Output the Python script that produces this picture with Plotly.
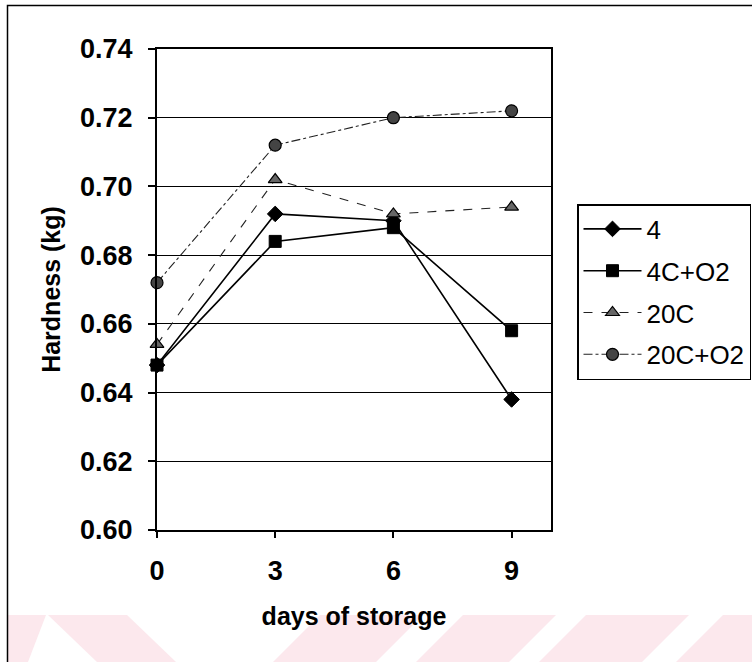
import plotly.graph_objects as go

# ---- data ----
days = [0, 3, 6, 9]
s_4 = [0.648, 0.692, 0.690, 0.638]
s_4c_o2 = [0.648, 0.684, 0.688, 0.658]
s_20c = [0.654, 0.702, 0.692, 0.694]
s_20c_o2 = [0.672, 0.712, 0.720, 0.722]
series_names = ["4", "4C+O2", "20C", "20C+O2"]
y_ticks = [0.60, 0.62, 0.64, 0.66, 0.68, 0.70, 0.72, 0.74]
x_ticks = [0, 3, 6, 9]

W, H = 752, 662
ML, MR, MT, MB = 157, 201, 49, 132
PW, PH = W - ML - MR, H - MT - MB


def px(x, y):
    return (x - ML) / PW, (H - MB - y) / PH


FONT = "Liberation Sans, Arial, sans-serif"

fig = go.Figure()

styles = [
    dict(line=dict(color="black", width=1.6, dash="solid"),
         marker=dict(symbol="diamond", size=12, color="black", line=dict(color="black", width=1))),
    dict(line=dict(color="black", width=1.6, dash="solid"),
         marker=dict(symbol="square", size=12, color="black", line=dict(color="black", width=1))),
    dict(line=dict(color="#222222", width=1.1, dash="dash"),
         marker=dict(symbol="triangle-up", size=12, color="#666666", line=dict(color="black", width=1.2))),
    dict(line=dict(color="#222222", width=1.1, dash="dashdot"),
         marker=dict(symbol="circle", size=12, color="#444444", line=dict(color="black", width=1.2))),
]

for i, (name, vals) in enumerate(zip(series_names, [s_4, s_4c_o2, s_20c, s_20c_o2])):
    fig.add_trace(go.Scatter(
        x=days, y=vals, name=name, mode="lines+markers",
        legendgroup=name, cliponaxis=False, **styles[i]))

# watermark polygons (pale pink)
pink_polys = [
    [(8, 615), (46, 615), (28, 662), (8, 662)],
    [(48, 615), (127, 615), (176, 662), (97, 662)],
    [(320, 615), (423, 615), (376, 662), (273, 662)],
    [(463, 615), (556, 615), (509, 662), (416, 662)],
    [(586, 615), (689, 615), (642, 662), (539, 662)],
    [(723, 615), (760, 615), (760, 662), (676, 662)],
]
shapes = []
for poly in pink_polys:
    pts = [px(x, y) for x, y in poly]
    path = "M " + " L ".join(f"{a:.4f},{b:.4f}" for a, b in pts) + " Z"
    shapes.append(dict(type="path", path=path, xref="paper", yref="paper",
                       fillcolor="#fce8ed", line=dict(width=0), layer="below"))

# outer chart border
x0, y1 = px(7.5, 5.5)
x1, y0 = px(780, 700)
shapes.append(dict(type="rect", xref="paper", yref="paper", x0=x0, y0=y0, x1=x1, y1=y1,
                   line=dict(color="black", width=1.5), fillcolor="rgba(0,0,0,0)", layer="above"))

lx, ly = px(577, 204)

fig.update_layout(
    width=W, height=H,
    margin=dict(l=ML, r=MR, t=MT, b=MB, autoexpand=False),
    paper_bgcolor="white", plot_bgcolor="white",
    font=dict(family=FONT, color="black"),
    shapes=shapes,
    showlegend=True,
    legend=dict(x=lx, y=ly, xanchor="left", yanchor="top",
                bordercolor="black", borderwidth=1.5, bgcolor="white",
                font=dict(family=FONT, size=26, color="black"),
                tracegroupgap=5, itemwidth=58),
    xaxis=dict(range=[0, 10], tickvals=x_ticks, ticktext=[str(v) for v in x_ticks],
               showgrid=False, zeroline=False,
               showline=True, linecolor="black", linewidth=2, mirror=True,
               ticks="outside", ticklen=6, tickcolor="black", tickwidth=1.5,
               tickfont=dict(family=FONT, size=27, weight="bold"),
               ticklabelstandoff=10,
               title=dict(text="days of storage", font=dict(family=FONT, size=25, weight="bold"),
                          standoff=22)),
    yaxis=dict(range=[0.60, 0.74], tickvals=y_ticks, ticktext=[f"{v:.2f}" for v in y_ticks],
               showgrid=True, gridcolor="black", gridwidth=1.2, zeroline=False,
               showline=True, linecolor="black", linewidth=2, mirror=True,
               ticks="outside", ticklen=7, tickcolor="black", tickwidth=1.5,
               tickfont=dict(family=FONT, size=27, weight="bold"),
               ticklabelstandoff=10,
               title=dict(text="Hardness (kg)", font=dict(family=FONT, size=25, weight="bold"),
                          standoff=12)),
)

fig.write_html("out.html")
